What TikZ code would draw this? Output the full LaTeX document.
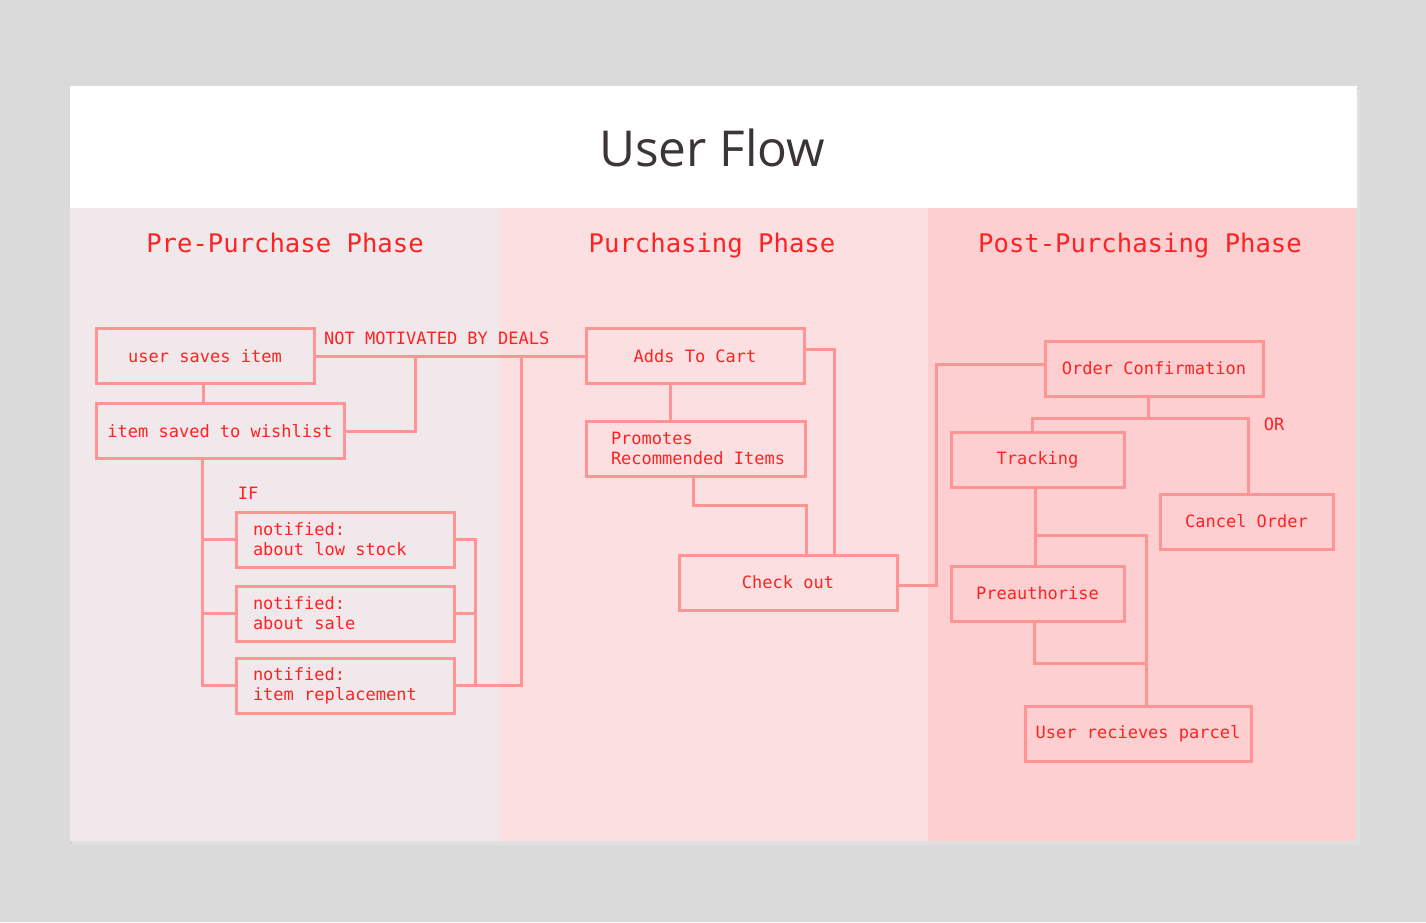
\documentclass[tikz,border=0pt]{standalone}
\usepackage{fontspec}
\setmainfont{Open Sans}
\newfontfamily\monofont{DejaVu Sans Mono}
\usetikzlibrary{calc}
\definecolor{bgray}{HTML}{DADADA}
\definecolor{colA}{HTML}{F0E8EA}
\definecolor{colB}{HTML}{FCDFE0}
\definecolor{colC}{HTML}{FDCFD1}
\definecolor{redtxt}{HTML}{FF2222}
\definecolor{redline}{HTML}{FF9494}
\definecolor{titlecol}{HTML}{3B3536}
\newcommand{\natsp}{\spaceskip=0pt\xspaceskip=0pt\relax}
\tikzset{
  stepbox/.style={draw=redline, line width=3pt, rectangle, minimum height=55pt,
    text=redtxt, font=\monofont\fontsize{17}{20}\selectfont, inner sep=0pt},
  multibox/.style={stepbox, align=left},
  conn/.style={draw=redline, line width=3pt},
  lbl/.style={text=redtxt, font=\monofont\fontsize{17}{20}\selectfont, inner sep=0pt},
  hdr/.style={text=redtxt, font=\monofont\fontsize{25.6}{30}\selectfont, inner sep=0pt, anchor=base},
}
\begin{document}
\begin{tikzpicture}[x=1pt,y=-1pt]
\useasboundingbox (0,0) rectangle (1426,922);
\fill[bgray] (0,0) rectangle (1426,922);
% card shadow
\fill[black!20] (71,88) rectangle (1359,844);
\fill[black!12] (72,89) rectangle (1360,845);
% card
\fill[white] (70,86) rectangle (1357,208);
\fill[colA] (70,208) rectangle (500,841);
\fill[colB] (500,208) rectangle (928,841);
\fill[colC] (928,208) rectangle (1356,841);
% title and headers
\node[text=titlecol, font=\fontsize{49.5}{58}\selectfont, inner sep=0pt] (title) at (712,148) {User Flow};
\node[hdr] (h1) at (285,252) {Pre-Purchase Phase};
\node[hdr] (h2) at (712,252) {Purchasing Phase};
\node[hdr] (h3) at (1140,252) {Post-Purchasing Phase};
% pre-purchase
\node[stepbox, minimum width=218pt] (usi) at (205,356) {user saves item};
\node[stepbox, minimum width=248pt] (wl) at (220,431) {item saved to wishlist};
\node[multibox, text width=184pt, inner xsep=17pt] (n1) at (345,539.5) {\natsp notified:\\\natsp about low stock};
\node[multibox, text width=184pt, inner xsep=17pt] (n2) at (345,613.5) {\natsp notified:\\\natsp about sale};
\node[multibox, text width=184pt, inner xsep=17pt] (n3) at (345,685.5) {\natsp notified:\\\natsp item replacement};
\node[lbl, anchor=west] (nm) at (324,338) {NOT MOTIVATED BY DEALS};
\node[lbl] (iflbl) at (248,493) {IF};
% purchasing
\node[multibox, text width=169pt, inner xsep=25pt] (pri) at (695.5,448.5) {\natsp Promotes\\\natsp\mbox{Recommended Items}};
\node[stepbox, minimum width=218pt] (atc) at (695,356) {Adds To Cart};
\node[stepbox, minimum width=218pt] (co) at (788,582.5) {Check out};
% post
\node[stepbox, minimum width=218pt] (oc) at (1154,368.5) {Order Confirmation};
\node[stepbox, minimum width=173pt] (tr) at (1037.5,459.5) {Tracking};
\node[stepbox, minimum width=173pt] (cn) at (1246.5,521.5) {Cancel Order};
\node[stepbox, minimum width=173pt] (pa) at (1037.5,593.5) {Preauthorise};
\node[stepbox, minimum width=226pt] (up) at (1138,733.5) {User recieves parcel};
\node[lbl] (orlbl) at (1274,424) {OR};
% coordinates
\coordinate (j1) at (415,356);
\coordinate (j2) at (202,685);
\coordinate (j3) at (475,685);
\coordinate (j5) at (521,356);
\coordinate (j6) at (806,505);
\coordinate (j7) at (834,555);
\coordinate (j8) at (936,475);
\coordinate (j9) at (1148,418);
\coordinate (j10) at (1035,535);
\coordinate (j11) at (1146,663);
% connectors pre-purchase
\draw[conn] ([xshift=-2pt]usi.south) -- ([xshift=-2pt]usi.south |- wl.north);
\draw[conn] (usi.east) -- (atc.west);
\draw[conn] (wl.east) -| (j1);
\draw[conn] (wl.south -| j2) |- (n3.west);
\draw[conn] (j2 |- n1.west) -- (n1.west);
\draw[conn] (j2 |- n2.west) -- (n2.west);
\draw[conn] (n1.east) -| (j3);
\draw[conn] (n2.east) -- (n2.east -| j3);
\draw[conn] (n3.east) -| (j5);
% purchasing
\draw[conn] ([xshift=-25pt]atc.south) -- ([xshift=-25pt]atc.south |- pri.north);
\draw[conn] ([xshift=-2pt]pri.south) |- (j6) -- (j6 |- co.north);
\draw[conn] ([yshift=7pt]atc.east) -| (j7 |- co.north);
\draw[conn] ([yshift=-2.5pt]co.east) -| (j8) |- ([yshift=4pt]oc.west);
% post
\draw[conn] ([xshift=-6pt]oc.south) -- (j9);
\draw[conn] ([xshift=-5.5pt]tr.north) |- (j9) -| ([xshift=1.5pt]cn.north);
\draw[conn] ([xshift=-2.5pt]tr.south) -- ([xshift=-2.5pt]pa.north);
\draw[conn] (j10) -| ([xshift=8pt]up.north);
\draw[conn] ([xshift=-3.5pt]pa.south) |- (j11);
\end{tikzpicture}
\end{document}
